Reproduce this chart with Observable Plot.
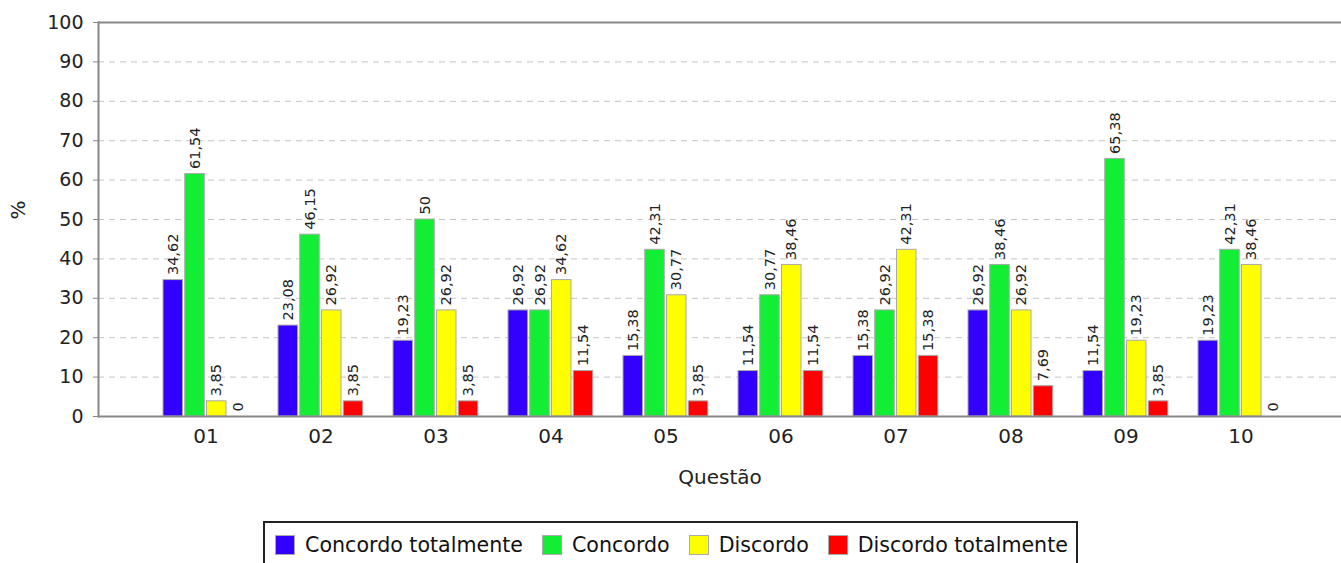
<!DOCTYPE html>
<html>
<head>
<meta charset="utf-8">
<script src="https://cdn.jsdelivr.net/npm/d3@7"></script>
<script src="https://cdn.jsdelivr.net/npm/@observablehq/plot@0.6"></script>
<style>
  html, body { margin: 0; padding: 0; background: #fff; }
  body { width: 1341px; height: 563px; overflow: hidden; font-family: "DejaVu Sans", sans-serif; }
  #legend { display: flex; justify-content: center; margin-top: 16px; }
  #legend .box { display: inline-flex; align-items: center; border: 2px solid #222; padding: 10px 8px 12px 10px; gap: 0; }
  #legend .item { display: inline-flex; align-items: center; margin-right: 19px; font-size: 20.6px; color: #111; }
  #legend .item:last-child { margin-right: 0; }
  #legend .sw { width: 20px; height: 20px; border: 1px solid #aaa; margin-right: 10px; box-sizing: border-box; }
</style>
</head>
<body>
<div id="chart"></div>
<div id="legend"></div>
<script>
const questions = ["01", "02", "03", "04", "05", "06", "07", "08", "09", "10"];
const seriesNames = ["Concordo totalmente", "Concordo", "Discordo", "Discordo totalmente"];
const seriesColors = ["#3300ff", "#11ee33", "#ffff00", "#ff0000"];
const concordoTotalmente = [34.62, 23.08, 19.23, 26.92, 15.38, 11.54, 15.38, 26.92, 11.54, 19.23];
const concordo = [61.54, 46.15, 50, 26.92, 42.31, 30.77, 26.92, 38.46, 65.38, 42.31];
const discordo = [3.85, 26.92, 26.92, 34.62, 30.77, 38.46, 42.31, 26.92, 19.23, 38.46];
const discordoTotalmente = [0, 3.85, 3.85, 11.54, 3.85, 11.54, 15.38, 7.69, 3.85, 0];
const yTicks = [0, 10, 20, 30, 40, 50, 60, 70, 80, 90, 100];

const seriesValues = [concordoTotalmente, concordo, discordo, discordoTotalmente];
const rows = [];
seriesNames.forEach((s, k) => questions.forEach((q, i) => rows.push({question: q, series: s, k, value: seriesValues[k][i]})));

const fmt = v => String(v).replace(".", ",");

// band geometry (layout)
const xRange = [98, 1348];
const padIn = 0.261, padOut = 0.565;
const step = (xRange[1] - xRange[0]) / (questions.length - padIn + 2 * padOut);
const bw = step * (1 - padIn);
const slot = (bw + 2) / 4;
const barW = slot - 2.25;

const marks = [
  Plot.gridY(yTicks.filter(t => t > 0 && t < 100), {stroke: "#c4c4c4", strokeOpacity: 1, strokeDasharray: "6,5"})
];
seriesNames.forEach((s, k) => {
  const d = rows.filter(r => r.k === k);
  marks.push(Plot.barY(d.filter(r => r.value > 0), {
    x: "question", y: "value", fill: seriesColors[k], stroke: "#aaa", strokeWidth: 1,
    insetLeft: k * slot, insetRight: bw - k * slot - barW
  }));
});
marks.push(
  Plot.ruleY([0], {stroke: "#888", strokeWidth: 2}),
  Plot.ruleY([100], {stroke: "#888", strokeWidth: 2}),
  Plot.frame({anchor: "left", stroke: "#888", strokeWidth: 2}),
  Plot.axisY({ticks: yTicks, tickSize: 5, tickPadding: 10, fontSize: 19, label: null, stroke: "#888", fill: "#222"}),
  Plot.axisX({tickSize: 0, tickPadding: 12, fontSize: 20, label: null, fill: "#222"})
);
seriesNames.forEach((s, k) => {
  const d = rows.filter(r => r.k === k);
  marks.push(Plot.text(d, {
    x: "question", y: "value", text: d => fmt(d.value), rotate: -90, textAnchor: "start", lineAnchor: "middle",
    dx: k * slot + barW / 2 - bw / 2, dy: -5, fontSize: 14.5, fill: "#222"
  }));
});
marks.push(
  Plot.text(["%"], {frameAnchor: "left", dx: -80, rotate: -90, fontSize: 20, fill: "#222"}),
  Plot.text(["Questão"], {frameAnchor: "bottom", dy: 67, fontSize: 20, fill: "#222"})
);

const chart = Plot.plot({
  width: 1341,
  height: 505,
  marginLeft: 98,
  marginRight: 0,
  marginTop: 22,
  marginBottom: 89,
  style: {fontFamily: "DejaVu Sans", background: "white", overflow: "visible"},
  x: {domain: questions, type: "band", range: xRange, paddingInner: padIn, paddingOuter: padOut},
  y: {domain: [0, 100]},
  marks
});
document.getElementById("chart").appendChild(chart);

const box = document.createElement("div");
box.className = "box";
seriesNames.forEach((s, k) => {
  const it = document.createElement("span");
  it.className = "item";
  const sw = document.createElement("span");
  sw.className = "sw";
  sw.style.background = seriesColors[k];
  it.appendChild(sw);
  it.appendChild(document.createTextNode(s));
  box.appendChild(it);
});
document.getElementById("legend").appendChild(box);
</script>
</body>
</html>
